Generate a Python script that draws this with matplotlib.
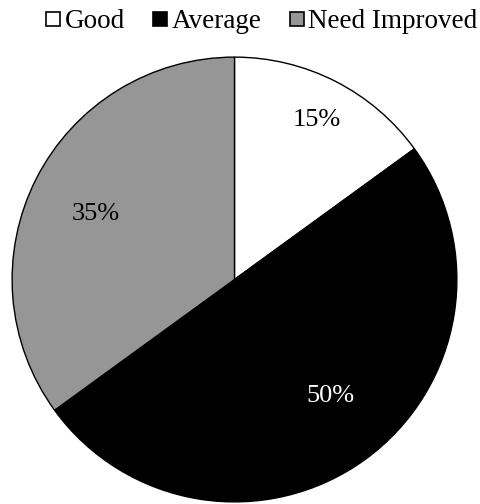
import matplotlib
matplotlib.use("Agg")
import matplotlib.pyplot as plt
import numpy as np
from matplotlib.lines import Line2D

categories = ["Good", "Average", "Need Improved"]
values = [15, 50, 35]
colors = ["#ffffff", "#000000", "#969696"]
text_colors = ["#000000", "#ffffff", "#000000"]
label_dist = [0.82, 0.67, 0.695]
label_angle_shift = [0, 4, 1]

plt.rcParams['font.family'] = ['Liberation Serif', 'DejaVu Serif']

fig = plt.figure(figsize=(4.81, 5.04), dpi=100)
ax = fig.add_axes([9.5/481, 1/504, 450/481, 447/504])
wedges, _ = ax.pie(values, colors=colors, startangle=90, counterclock=False,
                   wedgeprops=dict(edgecolor="black", linewidth=1.0), radius=1)
ax.set_xlim(-1.005, 1.005)
ax.set_ylim(-1.005, 1.005)
ax.set_aspect("equal")

total = sum(values)
for w, v, tc, d, s in zip(wedges, values, text_colors, label_dist, label_angle_shift):
    ang = np.deg2rad((w.theta1 + w.theta2) / 2 + s)
    ax.text(d * np.cos(ang), d * np.sin(ang), f"{round(100*v/total)}%",
            ha="center", va="center_baseline", fontsize=19, color=tc)

handles = [Line2D([], [], linestyle="none", marker="s", markersize=9.6,
                  markerfacecolor=c, markeredgecolor="black", markeredgewidth=1.2)
           for c in colors]
fig.legend(handles, categories, loc="center", bbox_to_anchor=(262/481, 1 - 22/504),
           ncol=3, frameon=False, fontsize=19.5, handlelength=0.5,
           handletextpad=0.18, columnspacing=1.05, borderpad=0, borderaxespad=0)

fig.savefig("out.png", dpi=100)
